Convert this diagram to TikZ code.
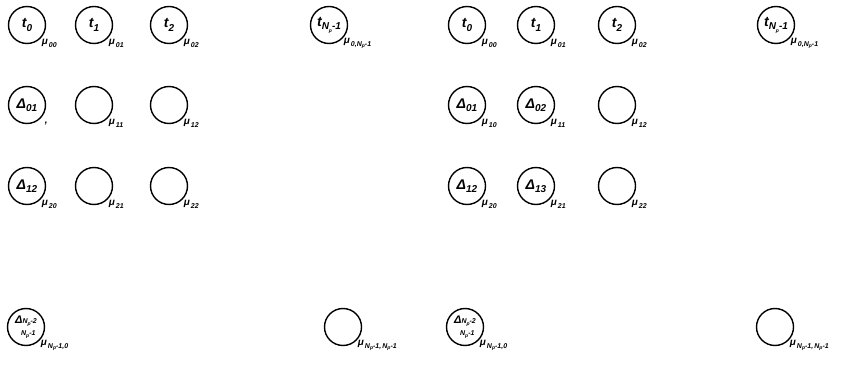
\documentclass[tikz,border=0pt]{standalone}
\usepackage{fontspec}
\setmainfont{Liberation Sans}
\newcommand\sbx[1]{\raisebox{-0.45ex}{\fontsize{10}{10}\selectfont #1}}
\newcommand\lsb[1]{\raisebox{-0.5ex}{\fontsize{7}{7}\selectfont #1}}
\newcommand\tsb[1]{\raisebox{-0.5ex}{\fontsize{5}{5}\selectfont #1}}
\begin{document}
\begin{tikzpicture}[x=1pt,y=-1pt,
  st/.style={circle,draw,line width=1.4pt,minimum size=37pt,inner sep=0pt,font=\bfseries\itshape\fontsize{14}{15}\selectfont},
  stk/.style={st,font=\bfseries\itshape\fontsize{11}{9}\selectfont,align=left},
  mu/.style={anchor=west,inner sep=0pt,font=\bfseries\itshape\fontsize{10}{10}\selectfont}]
\useasboundingbox (0,0) rectangle (850,371);
% left group
\node[st] (a00) at (27,25) {t\sbx{0}};
\node[st] (a01) at (94,25) {t\sbx{1}};
\node[st] (a02) at (169,25) {t\sbx{2}};
\node[st] (a0n) at (329,25) {t\sbx{N\tsb{p}-1}};
\node[st] (a10) at (27,105) {Δ\sbx{01}};
\node[st] (a11) at (94,105) {};
\node[st] (a12) at (169,105) {};
\node[st] (a20) at (27,186) {Δ\sbx{12}};
\node[st] (a21) at (94,186) {};
\node[st] (a22) at (169,186) {};
\node[stk] (an0) at (26,327) {Δ{\fontsize{7}{7}\selectfont N\tsb{p}-2}\\[3pt]\hspace*{6pt}{\fontsize{7}{7}\selectfont N\tsb{p}-1}};
\node[st] (ann) at (343,327) {};
% right group
\node[st] (b00) at (467,25) {t\sbx{0}};
\node[st] (b01) at (536,25) {t\sbx{1}};
\node[st] (b02) at (617,25) {t\sbx{2}};
\node[st] (b0n) at (776,25) {t\sbx{N\tsb{p}-1}};
\node[st] (b10) at (467,105) {Δ\sbx{01}};
\node[st] (b11) at (536,105) {Δ\sbx{02}};
\node[st] (b12) at (617,105) {};
\node[st] (b20) at (467,186) {Δ\sbx{12}};
\node[st] (b21) at (536,186) {Δ\sbx{13}};
\node[st] (b22) at (617,186) {};
\node[stk] (bn0) at (465,327) {Δ{\fontsize{7}{7}\selectfont N\tsb{p}-2}\\[3pt]\hspace*{6pt}{\fontsize{7}{7}\selectfont N\tsb{p}-1}};
\node[st] (bnn) at (775,327) {};
% labels
\foreach \n/\t in {a00/00,a01/01,a02/02,a11/11,a12/12,a20/20,a21/21,a22/22,
                   b00/00,b01/01,b02/02,b10/10,b11/11,b12/12,b20/20,b21/21,b22/22}{
  \node[mu] (l\n) at ([xshift=1pt,yshift=-5pt]\n.south east) {μ\lsb{\,\t}};
}
\node[mu] (la10) at ([xshift=4pt,yshift=-5pt]a10.south east) {,};
\node[mu] (la0n) at ([xshift=1pt,yshift=-5pt]a0n.south east) {μ\lsb{\,0,N\tsb{p}-1}};
\node[mu] (lb0n) at ([xshift=1pt,yshift=-5pt]b0n.south east) {μ\lsb{\,0,N\tsb{p}-1}};
\node[mu] (lan0) at ([xshift=1pt,yshift=-5pt]an0.south east) {μ\lsb{\,N\tsb{p}-1,0}};
\node[mu] (lbn0) at ([xshift=1pt,yshift=-5pt]bn0.south east) {μ\lsb{\,N\tsb{p}-1,0}};
\node[mu] (lann) at ([xshift=1pt,yshift=-5pt]ann.south east) {μ\lsb{\,N\tsb{p}-1,\,N\tsb{p}-1}};
\node[mu] (lbnn) at ([xshift=1pt,yshift=-5pt]bnn.south east) {μ\lsb{\,N\tsb{p}-1,\,N\tsb{p}-1}};
\end{tikzpicture}
\end{document}
